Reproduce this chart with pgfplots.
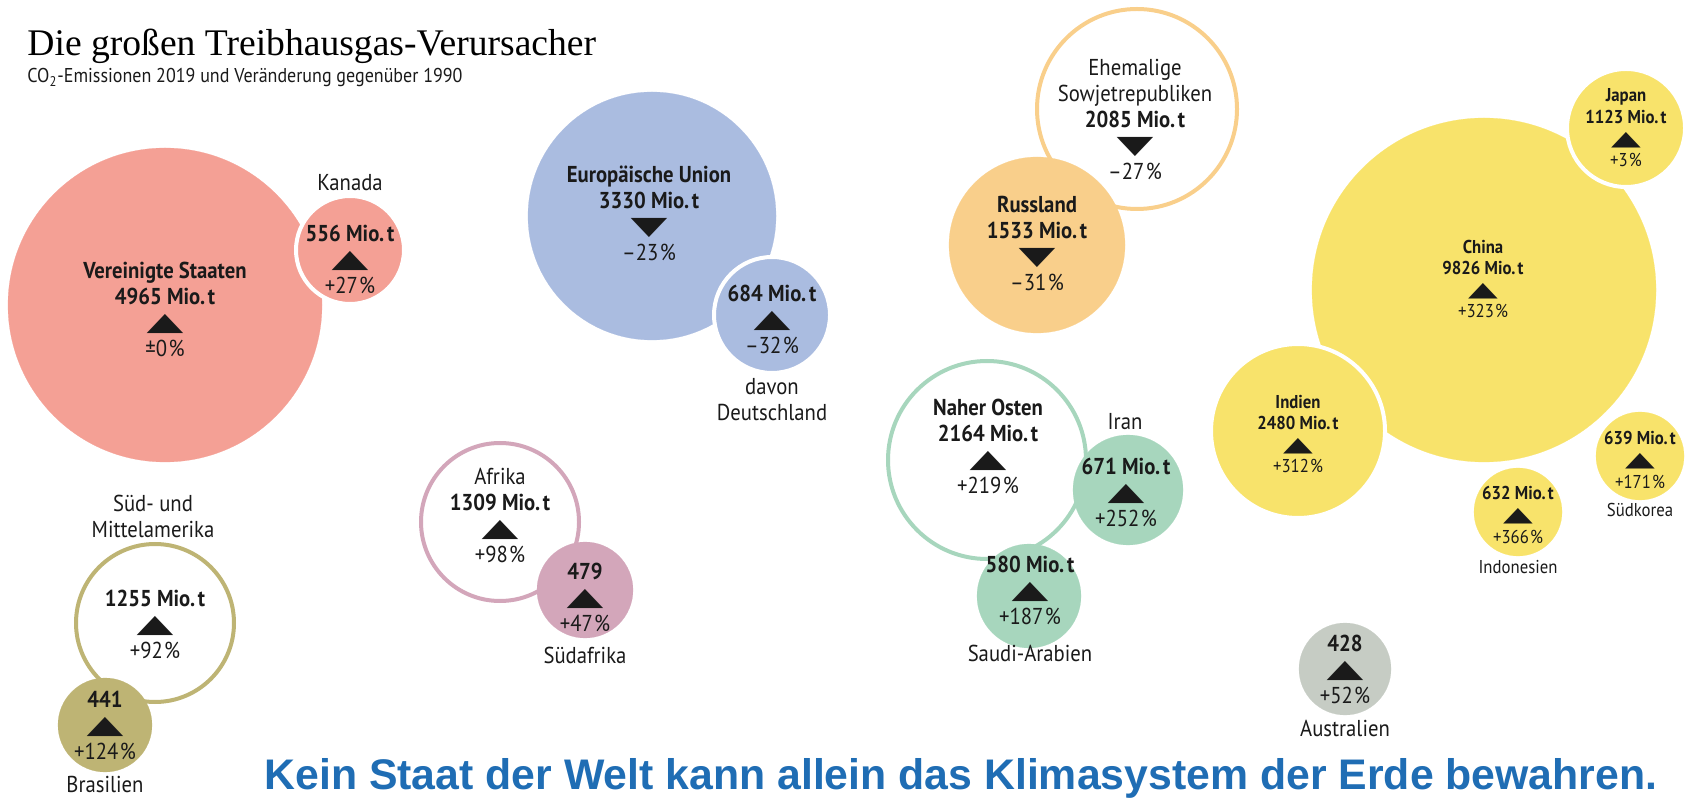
\documentclass[border=0pt]{standalone}
\usepackage{pgfplots}
\pgfplotsset{compat=1.18}
\usepackage{graphicx}
\usepackage{fontspec}
\setmainfont{PT Sans}[FakeStretch=0.9]
\newfontfamily\titlefont{Liberation Serif}
\newfontfamily\bottomfont{Liberation Sans}
\newfontfamily\symf{DejaVu Sans}
\definecolor{cUS}{HTML}{F4A095}
\definecolor{cEU}{HTML}{AABCE0}
\definecolor{cRU}{HTML}{F9CF8B}
\definecolor{cCN}{HTML}{F8E36B}
\definecolor{cME}{HTML}{A7D6BD}
\definecolor{cAF}{HTML}{D3A6BA}
\definecolor{cSA}{HTML}{BEB474}
\definecolor{cAU}{HTML}{C6CCC4}
\definecolor{cBlue}{HTML}{1F6DB4}
\definecolor{cTxt}{HTML}{1A1A1A}
\newcommand\up{\resizebox{1.6em}{0.7em}{\symf ▲}}
\newcommand\down{\resizebox{1.6em}{0.7em}{\symf ▼}}
\newcommand\pc{\kern0.06em\%}
\newcommand\mt{Mio.\kern0.12em t}
% bubble: x, y, radius (px), fill, stroke colour, stroke width
\newcommand\bubble[6]{\addplot[only marks, mark=*, mark size=#3/2, color=#5, mark options={fill=#4, line width=#6}] coordinates {(#1,#2)};}
\tikzset{
  lbl/.style={align=center, font=\fontsize{11.5}{13}\selectfont, text=cTxt, inner sep=0pt},
  slbl/.style={align=center, font=\fontsize{9.3}{10.8}\selectfont, text=cTxt, inner sep=0pt},
}
\begin{document}
\begin{tikzpicture}
\begin{axis}[
  x=0.5pt, y=0.5pt, y dir=reverse,
  xmin=0, xmax=1690, ymin=0, ymax=798,
  hide axis, clip=false, enlargelimits=false, set layers,
]
\addplot[draw=none, forget plot] coordinates {(0,0) (1690,798)};
% Nordamerika
\bubble{165}{305}{157}{cUS}{cUS}{0.1pt}
\bubble{350}{250}{54}{cUS}{white}{2pt}
% EU
\bubble{652}{216}{124}{cEU}{cEU}{0.1pt}
\bubble{772}{315}{58}{cEU}{white}{2pt}
% Sowjetrepubliken
\bubble{1137}{109}{100}{white}{cRU}{2pt}
\bubble{1037}{245}{88}{cRU}{cRU}{0.1pt}
% Asien
\bubble{1484}{290}{172}{cCN}{cCN}{0.1pt}
\bubble{1626}{128}{59}{cCN}{white}{2pt}
\bubble{1298}{431}{87}{cCN}{white}{2pt}
\bubble{1640}{456}{44}{cCN}{cCN}{0.1pt}
\bubble{1518}{512}{44}{cCN}{cCN}{0.1pt}
% Naher Osten
\bubble{987}{460}{99}{white}{cME}{2pt}
\bubble{1128}{490}{55}{cME}{cME}{0.1pt}
\bubble{1029}{596}{52}{cME}{cME}{0.1pt}
% Afrika
\bubble{500}{522}{79}{white}{cAF}{2pt}
\bubble{585}{590}{48}{cAF}{cAF}{0.1pt}
% Sued- und Mittelamerika
\bubble{155}{623}{79}{white}{cSA}{2pt}
\bubble{105}{725}{47}{cSA}{cSA}{0.1pt}
% Australien
\bubble{1345}{669}{46}{cAU}{cAU}{0.1pt}

\begin{pgfonlayer}{axis foreground}
% Titles
\node[anchor=base west, inner sep=0pt, font=\titlefont\fontsize{18.8}{20}\selectfont] at (axis cs:27,56) {Die großen Treibhausgas-Verursacher};
\node[anchor=base west, inner sep=0pt, font=\fontsize{10}{11}\selectfont, text=cTxt] at (axis cs:27,83) {CO\textsubscript{2}-Emissionen 2019 und Veränderung gegenüber 1990};

% Labels
\node[lbl] at (axis cs:165,309) {\bfseries Vereinigte Staaten\\\bfseries 4965 \mt\\\up\\±0\pc};
\node[lbl] at (axis cs:350,183) {Kanada};
\node[lbl] at (axis cs:350,259) {\bfseries 556 \mt\\\up\\+27\pc};
\node[lbl] at (axis cs:649,213) {\bfseries Europäische Union\\\bfseries 3330 \mt\\\down\\–23\pc};
\node[lbl] at (axis cs:772,319) {\bfseries 684 \mt\\\up\\–32\pc};
\node[lbl] at (axis cs:772,400) {davon\\Deutschland};
\node[lbl] at (axis cs:1135,120) {Ehemalige\\Sowjetrepubliken\\\bfseries 2085 \mt\\\down\\–27\pc};
\node[lbl] at (axis cs:1037,243) {\bfseries Russland\\\bfseries 1533 \mt\\\down\\–31\pc};
\node[slbl] at (axis cs:1483,279) {\bfseries China\\\bfseries 9826 \mt\\\up\\+323\pc};
\node[slbl] at (axis cs:1626,128) {\bfseries Japan\\\bfseries 1123 \mt\\\up\\+3\pc};
\node[slbl] at (axis cs:1298,434) {\bfseries Indien\\\bfseries 2480 \mt\\\up\\+312\pc};
\node[slbl] at (axis cs:1640,460) {\bfseries 639 \mt\\\up\\+171\pc};
\node[slbl] at (axis cs:1640,510) {Südkorea};
\node[slbl] at (axis cs:1518,515) {\bfseries 632 \mt\\\up\\+366\pc};
\node[slbl] at (axis cs:1518,567) {Indonesien};
\node[lbl] at (axis cs:1345,669) {\bfseries 428\\\up\\+52\pc};
\node[lbl] at (axis cs:1345,728) {Australien};
\node[lbl] at (axis cs:988,446) {\bfseries Naher Osten\\\bfseries 2164 \mt\\\up\\+219\pc};
\node[lbl] at (axis cs:1125,422) {Iran};
\node[lbl] at (axis cs:1126,492) {\bfseries 671 \mt\\\up\\+252\pc};
\node[lbl] at (axis cs:1030,590) {\bfseries 580 \mt\\\up\\+187\pc};
\node[lbl] at (axis cs:1030,653) {Saudi-Arabien};
\node[lbl] at (axis cs:500,515) {Afrika\\\bfseries 1309 \mt\\\up\\+98\pc};
\node[lbl] at (axis cs:585,597) {\bfseries 479\\\up\\+47\pc};
\node[lbl] at (axis cs:585,655) {Südafrika};
\node[lbl] at (axis cs:153,516) {Süd- und\\Mittelamerika};
\node[lbl] at (axis cs:155,624) {\bfseries 1255 \mt\\\up\\+92\pc};
\node[lbl] at (axis cs:105,725) {\bfseries 441\\\up\\+124\pc};
\node[lbl, anchor=base] at (axis cs:105,792) {Brasilien};

\node[anchor=base west, inner sep=0pt, text=cBlue, font=\bottomfont\bfseries\fontsize{21.4}{23}\selectfont] at (axis cs:264,789) {Kein Staat der Welt kann allein das Klimasystem der Erde bewahren.};
\end{pgfonlayer}
\end{axis}
\end{tikzpicture}
\end{document}
